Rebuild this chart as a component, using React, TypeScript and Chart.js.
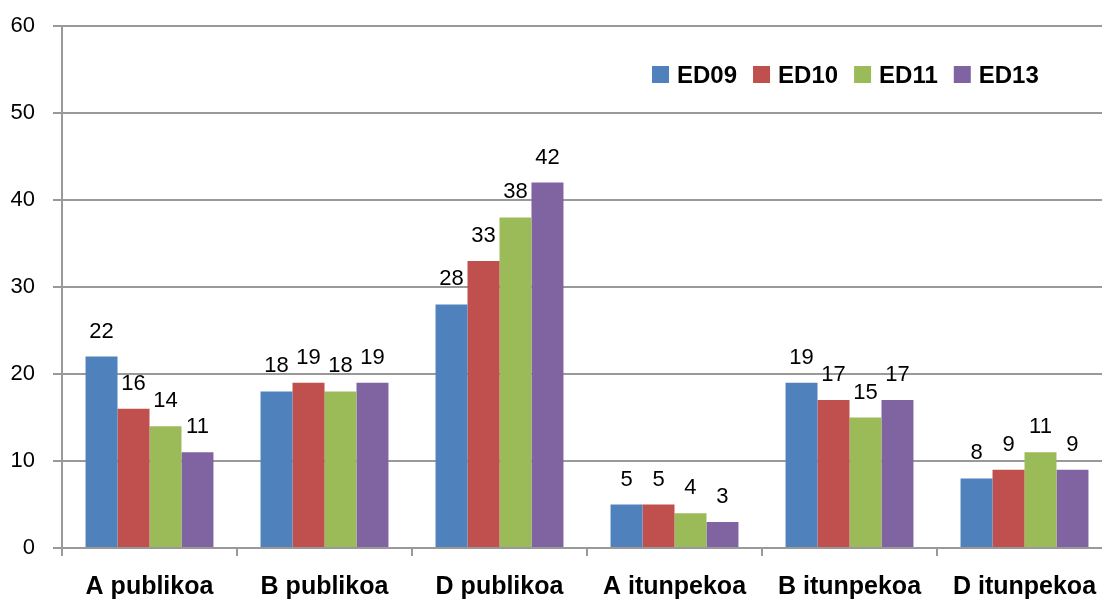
import React, { useEffect, useRef } from "react";
import { Chart, registerables } from "chart.js";

Chart.register(...registerables);

const categories = ["A publikoa", "B publikoa", "D publikoa", "A itunpekoa", "B itunpekoa", "D itunpekoa"];
const seriesNames = ["ED09", "ED10", "ED11", "ED13"];
const ed09 = [22, 18, 28, 5, 19, 8];
const ed10 = [16, 19, 33, 5, 17, 9];
const ed11 = [14, 18, 38, 4, 15, 11];
const ed13 = [11, 19, 42, 3, 17, 9];
const yTicks = [0, 10, 20, 30, 40, 50, 60];
const seriesColors = ["#4F81BD", "#C0504D", "#9BBB59", "#8064A2"];

const FONT = "'Liberation Sans', Arial, sans-serif";
const GRID = "#999999";

const dataLabelPlugin = {
  id: "dataLabels",
  afterDatasetsDraw(chart: any) {
    const ctx = chart.ctx;
    ctx.save();
    ctx.font = `22px ${FONT}`;
    ctx.fillStyle = "#000";
    ctx.textAlign = "center";
    ctx.textBaseline = "alphabetic";
    chart.data.datasets.forEach((ds: any, i: number) => {
      const meta = chart.getDatasetMeta(i);
      meta.data.forEach((bar: any, j: number) => {
        ctx.fillText(String(ds.data[j]), bar.x, bar.y - 19);
      });
    });
    ctx.restore();
  },
};

const legendPlugin = {
  id: "customLegend",
  afterDraw(chart: any) {
    const ctx = chart.ctx;
    const area = chart.chartArea;
    ctx.save();
    ctx.font = `bold 24px ${FONT}`;
    ctx.textBaseline = "alphabetic";
    ctx.textAlign = "left";
    let x = area.left + 590;
    const top = area.top + 40;
    chart.data.datasets.forEach((ds: any) => {
      ctx.fillStyle = ds.backgroundColor;
      ctx.fillRect(x, top, 17, 17);
      ctx.fillStyle = "#000";
      const tx = x + 25;
      ctx.fillText(ds.label, tx, top + 17);
      x = tx + ctx.measureText(ds.label).width + 16;
    });
    ctx.restore();
  },
};

export default function App() {
  const ref = useRef<HTMLCanvasElement | null>(null);

  useEffect(() => {
    if (!ref.current) return;
    const seriesValues = [ed09, ed10, ed11, ed13];
    const chart = new Chart(ref.current, {
      type: "bar",
      data: {
        labels: categories,
        datasets: seriesNames.map((name, i) => ({
          label: name,
          data: seriesValues[i],
          backgroundColor: seriesColors[i],
          borderWidth: 0,
          barPercentage: 1,
          categoryPercentage: 0.731,
        })),
      },
      options: {
        animation: false,
        responsive: false,
        devicePixelRatio: 1,
        layout: { padding: { top: 26, left: 0, right: 2, bottom: 0 } },
        plugins: {
          legend: { display: false },
          title: { display: false },
          tooltip: { enabled: false },
        },
        scales: {
          x: {
            type: "category",
            offset: true,
            grid: {
              offset: true,
              drawOnChartArea: false,
              drawTicks: true,
              tickLength: 8,
              color: GRID,
              lineWidth: 2,
            },
            border: { display: true, color: GRID, width: 2 },
            ticks: {
              font: { family: FONT, size: 25, weight: "bold" },
              color: "#000",
              padding: 16,
              maxRotation: 0,
              autoSkip: false,
            },
            afterFit: (scale: any) => {
              scale.height = 51;
              scale.paddingLeft = 0;
              scale.paddingRight = 0;
            },
          },
          y: {
            min: 0,
            max: 60,
            grid: {
              color: GRID,
              lineWidth: 2,
              drawTicks: true,
              tickLength: 9,
            },
            border: { display: true, color: GRID, width: 2 },
            ticks: {
              stepSize: 10,
              padding: 18,
              font: { family: FONT, size: 22 },
              color: "#000",
            },
            afterBuildTicks: (scale: any) => {
              scale.ticks = yTicks.map((v) => ({ value: v }));
            },
            afterFit: (scale: any) => {
              scale.width = 62;
              scale.paddingTop = 0;
              scale.paddingBottom = 0;
            },
          },
        },
      },
      plugins: [dataLabelPlugin, legendPlugin],
    } as any);
    return () => chart.destroy();
  }, []);

  return (
    <div
      style={{
        position: "absolute",
        left: 0,
        top: 0,
        width: 1102,
        height: 599,
        overflow: "hidden",
        background: "#fff",
      }}
    >
      <canvas ref={ref} width={1114} height={599} style={{ display: "block" }} />
    </div>
  );
}
